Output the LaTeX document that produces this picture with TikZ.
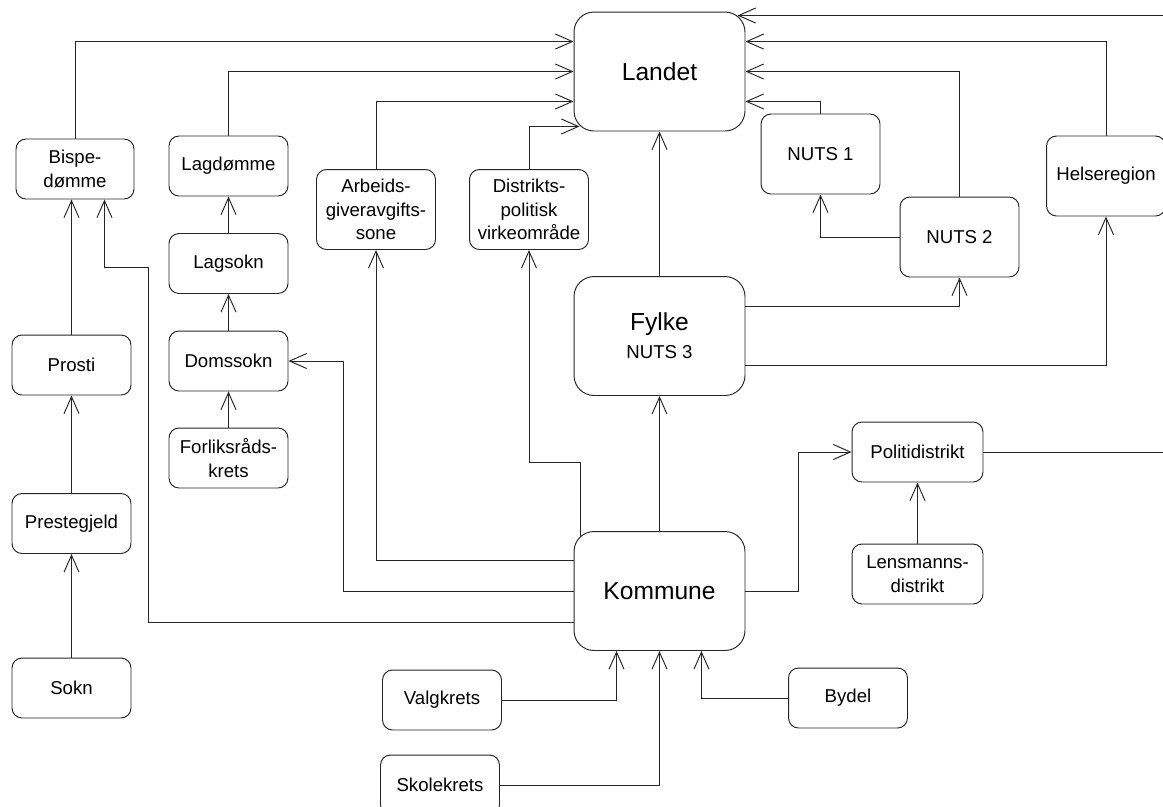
\documentclass[tikz,border=0pt]{standalone}
\usepackage{fontspec}
\setmainfont{Liberation Sans}
\usepackage{tikz}
\usetikzlibrary{arrows.meta,positioning,calc}
\newcommand{\boxfont}{\fontsize{10.6}{13.4}\selectfont}
\newcommand{\bigboxfont}{\fontsize{14}{16}\selectfont}
\tikzset{
    line color/.style={black!85},
    box/.style={draw,line color,line width=0.55pt,rounded corners=0.2cm,align=center,
        minimum width=2.38cm,minimum height=1.2cm,inner sep=1pt,font=\boxfont,text=black},
    tall box/.style={box,minimum height=1.6cm},
    wide box/.style={box,minimum width=2.62cm},
    big box/.style={box,rounded corners=0.4cm,minimum width=3.42cm,minimum height=2.38cm,font=\bigboxfont},
    arr/.style={-{Straight Barb[length=3.4mm,width=3mm]},line color,line width=0.55pt},
}

\begin{document}
\begin{tikzpicture}[x=0.02cm,y=-0.02cm]
    \useasboundingbox (0,0) rectangle (1163,806);

    % main levels
    \node[big box] (Landet) at (659.5,71.5) {Landet};
    \node[big box] (Fylke) at (659.5,336) {Fylke\\{\boxfont NUTS 3}};
    \node[big box] (Kommune) at (659.5,591) {Kommune};

    % church
    \node[box,minimum width=2.36cm] (Bispe) at (75,169) {Bispe-\\dømme};
    \node[box] (Prosti) at (71.5,365) {Prosti};
    \node[box] (Prestegjeld) at (71.5,523.5) {Prestegjeld};
    \node[box] (Sokn) at (71.5,688) {Sokn};

    % courts
    \node[box] (Lagdomme) at (228.5,166) {Lagdømme};
    \node[box] (Lagsokn) at (228.5,263.5) {Lagsokn};
    \node[box] (Domssokn) at (228.5,361) {Domssokn};
    \node[box] (Forlik) at (228.5,458) {Forliksråds-\\krets};

    \node[tall box] (Arbeid) at (376,209.5) {Arbeids-\\giveravgifts-\\sone};
    \node[tall box] (Distrikt) at (529,209.5) {Distrikts-\\politisk\\virkeområde};

    \node[tall box] (Nuts1) at (820.5,154) {NUTS 1};
    \node[tall box] (Nuts2) at (959.5,237) {NUTS 2};
    \node[tall box] (Helse) at (1106,176) {Helseregion};

    \node[wide box] (Politi) at (917.5,452) {Politidistrikt};
    \node[wide box] (Lensmann) at (917.5,574) {Lensmanns-\\distrikt};

    \node[box] (Valg) at (442,700) {Valgkrets};
    \node[box] (Skole) at (440,785) {Skolekrets};
    \node[box] (Bydel) at (848,698) {Bydel};

    % into Landet
    \draw[arr] (Bispe.north) |- ($(Landet.north west)+(0,30)$);
    \draw[arr] (Lagdomme.north) |- (Landet.west);
    \draw[arr] (Arbeid.north) |- ($(Landet.south west)+(0,-30)$);
    \draw[arr] (Distrikt.north) |- ($(Landet.south west)+(6,-5)$);
    \draw[arr] (Fylke) -- (Landet);
    \draw[arr] (Nuts1.north) |- ($(Landet.south east)+(0,-30)$);
    \draw[arr] (Nuts2.north) |- (Landet.east);
    \draw[arr] (Helse.north) |- ($(Landet.north east)+(0,30)$);
    \draw[arr] (Politi.east) -- ++(220,0) |- ($(Landet.north east)+(-8,4)$);

    % from Fylke
    \draw[arr] (Nuts2.west) -| (Nuts1.south);
    \draw[arr] ($(Fylke.north east)+(0,30)$) -| (Nuts2.south);
    \draw[arr] ($(Fylke.south east)+(0,-30)$) -| (Helse.south);

    % from Kommune
    \draw[arr] (Kommune) -- (Fylke);
    \draw[arr] ($(Kommune.north west)+(7,5)$) -- ++(0,-74) -| (Distrikt.south);
    \draw[arr] ($(Kommune.west)+(0,-31)$) -| (Arbeid.south);
    \draw[arr] (Kommune.west) -- ++(-230,0) |- (Domssokn.east);
    \draw[arr] ($(Kommune.west)+(0,31)$) -| ($(Bispe.south)+(73,68)$) -| ($(Bispe.south east)+(-30,0)$);
    \draw[arr] (Kommune.east) -- ++(53,0) |- (Politi.west);
    \draw[arr] (Lensmann) -- (Politi);

    % chains
    \draw[arr] (Prosti.north) -- (Prosti.north |- Bispe.south);
    \draw[arr] (Prestegjeld) -- (Prosti);
    \draw[arr] (Sokn) -- (Prestegjeld);
    \draw[arr] (Lagsokn) -- (Lagdomme);
    \draw[arr] (Domssokn) -- (Lagsokn);
    \draw[arr] (Forlik) -- (Domssokn);

    % into Kommune
    \draw[arr] (Valg.east) -| ($(Kommune.south west)+(43,0)$);
    \draw[arr] (Skole.east) -| (Kommune.south);
    \draw[arr] (Bydel.west) -| ($(Kommune.south east)+(-44,0)$);
\end{tikzpicture}
\end{document}
